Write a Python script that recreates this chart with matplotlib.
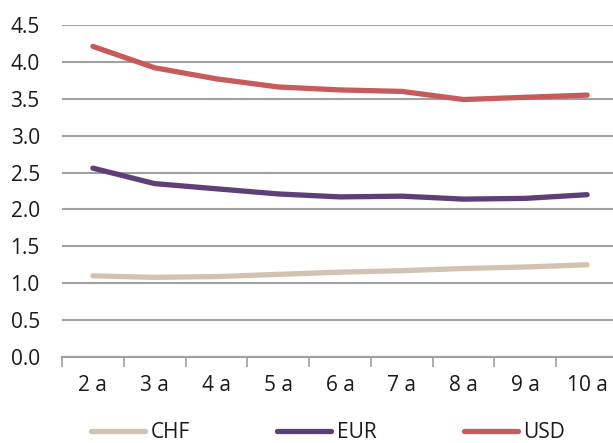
import matplotlib
matplotlib.use("Agg")
import matplotlib.pyplot as plt
import numpy as np

plt.rcParams['font.family'] = ['Open Sans', 'DejaVu Sans']

categories = ["2 a", "3 a", "4 a", "5 a", "6 a", "7 a", "8 a", "9 a", "10 a"]
chf = [1.10, 1.08, 1.09, 1.12, 1.15, 1.17, 1.20, 1.22, 1.25]
eur = [2.56, 2.35, 2.28, 2.21, 2.17, 2.18, 2.14, 2.15, 2.20]
usd = [4.21, 3.92, 3.77, 3.66, 3.62, 3.60, 3.49, 3.52, 3.55]

W, H = 613, 443
fig = plt.figure(figsize=(W/100, H/100), dpi=100)
ax = fig.add_axes([62/W, 1-357/H, (618-62)/W, (357-25)/H])

x = np.arange(len(categories))
lw = 3.8
ax.plot(x, chf, color="#D3C2AF", lw=lw, solid_capstyle="round", label="CHF")
ax.plot(x, eur, color="#5E3F78", lw=lw, solid_capstyle="round", label="EUR")
ax.plot(x, usd, color="#C75B5B", lw=lw, solid_capstyle="round", label="USD")

fs = 15
ax.set_xlim(-0.5, len(categories)-0.5)
ax.set_ylim(0, 4.5)
ax.set_yticks(np.arange(0, 4.51, 0.5))
ax.set_yticklabels([f"{v:.1f}" for v in np.arange(0, 4.51, 0.5)])
ax.set_xticks(x)
ax.set_xticklabels(categories)
ax.set_xticks(np.arange(-0.5, len(categories), 1), minor=True)
ax.tick_params(axis='x', which='major', length=0, pad=13, labelsize=fs, colors="#1a1a1a")
ax.tick_params(axis='x', which='minor', length=7, width=1.2, color="#A0A0A0", direction='out')
ax.tick_params(axis='y', length=0, pad=16, labelsize=fs, colors="#1a1a1a")

ax.yaxis.grid(True, color="#A0A0A0", lw=1.5)
ax.set_axisbelow(True)
for s in ["top", "right", "left"]:
    ax.spines[s].set_visible(False)
ax.spines["bottom"].set_color("#A0A0A0")
ax.spines["bottom"].set_linewidth(1.5)

leg = fig.legend(loc="center", bbox_to_anchor=(328/W, 1-433/H), ncol=3, frameon=False,
                 fontsize=fs, handlelength=2.6, handletextpad=0.25, columnspacing=4.2,
                 borderaxespad=0)
for t in leg.get_texts():
    t.set_color("#1a1a1a")

fig.savefig("out.png", dpi=100)
